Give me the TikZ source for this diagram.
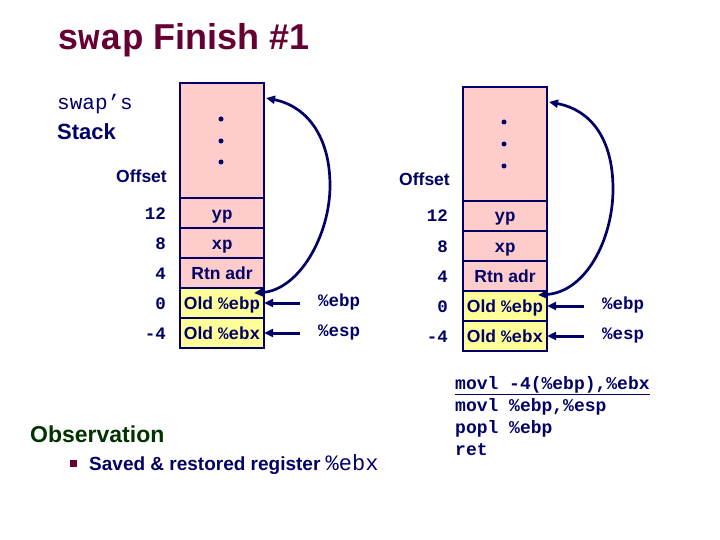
\documentclass[tikz,border=0pt]{standalone}
\usepackage{fontspec}
\setmainfont{Liberation Sans}
\setmonofont{Liberation Mono}
\usetikzlibrary{arrows.meta,positioning,calc}
\definecolor{navy}{HTML}{000066}
\definecolor{cellpink}{HTML}{FFCCCC}
\definecolor{cellyellow}{HTML}{FFFF99}
\definecolor{titlered}{HTML}{660033}
\definecolor{obsgreen}{HTML}{003300}

\begin{document}
\begin{tikzpicture}[x=1pt, y=-1pt,
  cell/.style={draw=navy, line width=2.4pt, fill=cellpink, minimum width=84pt, minimum height=30pt, inner sep=0pt, outer sep=0pt, text height=14.5pt, text depth=2.5pt, text=navy, font=\fontsize{17.5}{20}\selectfont\bfseries},
  savecell/.style={cell, fill=cellyellow},
  off/.style={inner sep=0pt, text height=14.5pt, text depth=2.5pt, text=navy, font=\fontsize{17.5}{20}\selectfont\ttfamily\bfseries},
  lbl/.style={inner sep=0pt, text=navy, font=\fontsize{17.5}{20}\selectfont\bfseries},
  reg/.style={inner sep=0pt, text height=10pt, text depth=4pt, text=navy, font=\fontsize{17.5}{20}\selectfont\ttfamily\bfseries},
  code/.style={inner sep=0pt, anchor=base west, text=navy, font=\fontsize{18}{22}\selectfont\ttfamily\bfseries},
  ptr/.style={-{Triangle[length=9pt,width=8pt]}, line width=3pt, navy},
  link/.style={{Triangle[length=9pt,width=8pt]}-{Triangle[length=9pt,width=8pt]}, line width=2.7pt, navy}
]
  \useasboundingbox (0,0) rectangle (720,540);

  % title and side labels
  \node[anchor=base west, inner sep=0pt, text=titlered, font=\fontsize{36}{40}\selectfont\bfseries] (title) at (57,50) {{\ttfamily swap} Finish \#1};
  \node[anchor=base west, inner sep=0pt, text=navy, font=\fontsize{21}{24}\selectfont\ttfamily] (swaps) at (57,110) {swap’s};
  \node[anchor=base west, inner sep=0pt, text=navy, font=\fontsize{22}{24}\selectfont\bfseries] (stack) at (57,140) {Stack};

  % stack before
  \node[cell, minimum height=115pt, anchor=north] (topL) at (222,83) {};
  \node[cell, below=0pt of topL] (ypL) {\ttfamily yp};
  \node[cell, below=0pt of ypL] (xpL) {\ttfamily xp};
  \node[cell, below=0pt of xpL] (rtnL) {Rtn adr};
  \node[savecell, below=0pt of rtnL] (ebpL) {Old {\ttfamily\%ebp}};
  \node[savecell, below=0pt of ebpL] (ebxL) {Old {\ttfamily\%ebx}};
  \foreach \dy in {36,58,79}
    \fill[navy] ($(topL.north)+(-1,\dy)$) circle (2.5pt);

  \node[lbl, anchor=base east] (offL) at ($(topL.south west)+(-13,-15)$) {Offset};
  \node[off, left=14pt of ypL] (o12L) {12};
  \node[off, left=14pt of xpL] (o8L) {8};
  \node[off, left=14pt of rtnL] (o4L) {4};
  \node[off, left=14pt of ebpL] (o0L) {0};
  \node[off, left=14pt of ebxL] (om4L) {-4};

  \node[reg, right=54pt of ebpL] (rebpL) {\%ebp};
  \node[reg, right=54pt of ebxL] (respL) {\%esp};
  \draw[ptr, shorten <=18pt] (rebpL) -- (ebpL);
  \draw[ptr, shorten <=18pt] (respL) -- (ebxL);
  \draw[link] ($(ebpL.north east)+(-10,5)$) .. controls +(45,-3) and +(0,50) .. ($(ebpL.north east)!0.5!(topL.north east)+(66,0)$)
    .. controls +(0,-50) and +(40,8) .. ($(topL.north east)+(2,15)$);

  % stack after
  \node[cell, minimum height=114pt, anchor=north] (topR) at (505,87) {};
  \node[cell, below=0pt of topR] (ypR) {\ttfamily yp};
  \node[cell, below=0pt of ypR] (xpR) {\ttfamily xp};
  \node[cell, below=0pt of xpR] (rtnR) {Rtn adr};
  \node[savecell, below=0pt of rtnR] (ebpR) {Old {\ttfamily\%ebp}};
  \node[savecell, below=0pt of ebpR] (ebxR) {Old {\ttfamily\%ebx}};
  \foreach \dy in {35,57,79}
    \fill[navy] ($(topR.north)+(-1,\dy)$) circle (2.5pt);

  \node[lbl, anchor=base east] (offR) at ($(topR.south west)+(-13,-15)$) {Offset};
  \node[off, left=15pt of ypR] (o12R) {12};
  \node[off, left=15pt of xpR] (o8R) {8};
  \node[off, left=15pt of rtnR] (o4R) {4};
  \node[off, left=15pt of ebpR] (o0R) {0};
  \node[off, left=15pt of ebxR] (om4R) {-4};

  \node[reg, right=55pt of ebpR] (rebpR) {\%ebp};
  \node[reg, right=55pt of ebxR] (respR) {\%esp};
  \draw[ptr, shorten <=18pt] (rebpR) -- (ebpR);
  \draw[ptr, shorten <=18pt] (respR) -- (ebxR);
  \draw[link] ($(ebpR.north east)+(-9,4)$) .. controls +(48,-3) and +(0,50) .. ($(ebpR.north east)!0.5!(topR.north east)+(66,0)$)
    .. controls +(0,-50) and +(42,8) .. ($(topR.north east)+(2,15)$);

  % code
  \node[code] (code1) at (455,389) {\underline{movl -4(\%ebp),\%ebx}};
  \node[code] (code2) at (455,411) {movl \%ebp,\%esp};
  \node[code] (code3) at (455,433) {popl \%ebp};
  \node[code] (code4) at (455,455) {ret};

  % observation
  \node[anchor=base west, inner sep=0pt, text=obsgreen, font=\fontsize{23}{26}\selectfont\bfseries] (obs) at (30,442) {Observation};
  \node[fill=titlered, minimum size=7pt, inner sep=0pt] (bullet) at (73.5,463.5) {};
  \node[anchor=base west, inner sep=0pt, text=navy, font=\fontsize{19}{22}\selectfont\bfseries] (note) at (89,470) {Saved \& restored register {\mdseries\ttfamily\fontsize{22}{22}\selectfont\%ebx}};
\end{tikzpicture}
\end{document}
